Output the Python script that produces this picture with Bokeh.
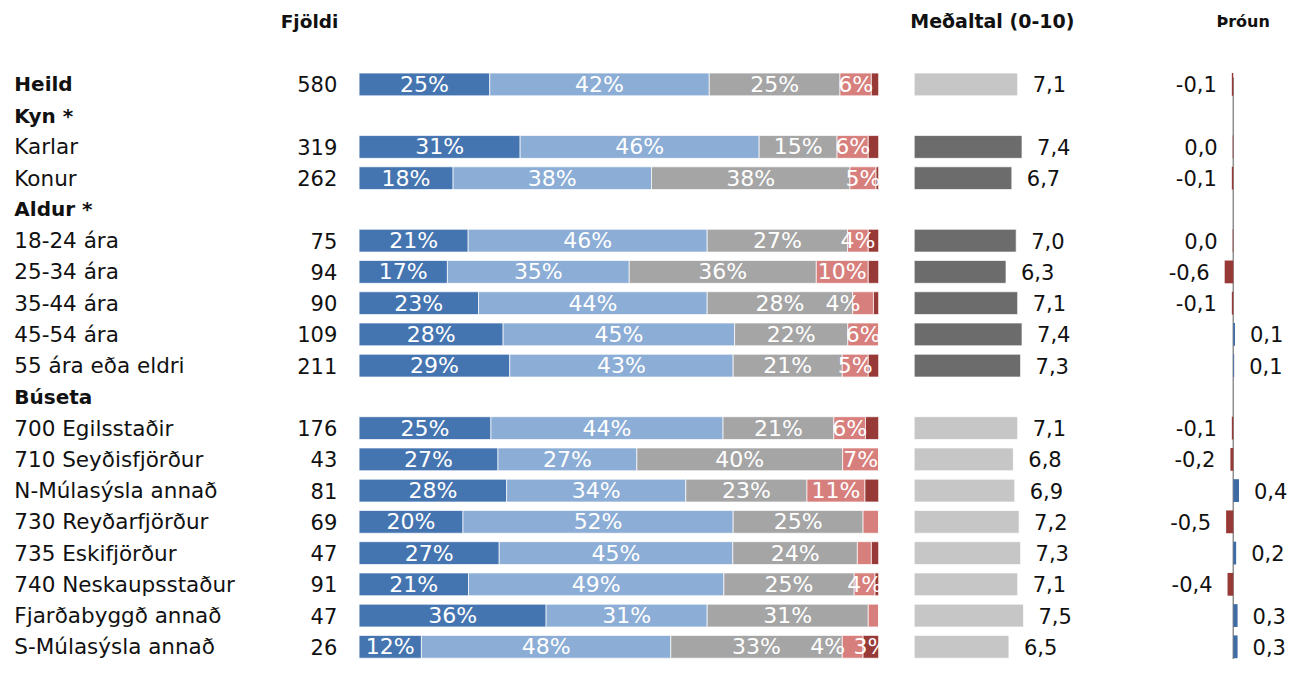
from bokeh.plotting import figure
from bokeh.models import Range1d, ColumnDataSource
from bokeh.core.properties import value
from bokeh.embed import file_html
from bokeh.resources import INLINE

# ---------------- data ----------------
rows = ["Heild", "Kyn *", "Karlar", "Konur", "Aldur *", "18-24 ára", "25-34 ára",
        "35-44 ára", "45-54 ára", "55 ára eða eldri", "Búseta", "700 Egilsstaðir",
        "710 Seyðisfjörður", "N-Múlasýsla annað", "730 Reyðarfjörður", "735 Eskifjörður",
        "740 Neskaupsstaður", "Fjarðabyggð annað", "S-Múlasýsla annað"]
bold_rows = ["Heild", "Kyn *", "Aldur *", "Búseta"]

data_rows = ["Heild", "Karlar", "Konur", "18-24 ára", "25-34 ára", "35-44 ára", "45-54 ára",
             "55 ára eða eldri", "700 Egilsstaðir", "710 Seyðisfjörður", "N-Múlasýsla annað",
             "730 Reyðarfjörður", "735 Eskifjörður", "740 Neskaupsstaður",
             "Fjarðabyggð annað", "S-Múlasýsla annað"]
groups = ["Heild", "Kyn", "Kyn", "Aldur", "Aldur", "Aldur", "Aldur", "Aldur",
          "Búseta", "Búseta", "Búseta", "Búseta", "Búseta", "Búseta", "Búseta", "Búseta"]
fjoldi = [580, 319, 262, 75, 94, 90, 109, 211, 176, 43, 81, 69, 47, 91, 47, 26]

s1 = [25, 31, 18, 21, 17, 23, 28, 29, 25, 27, 28, 20, 27, 21, 36, 12]
s2 = [42, 46, 38, 46, 35, 44, 45, 43, 44, 27, 34, 52, 45, 49, 31, 48]
s3 = [25, 15, 38, 27, 36, 28, 22, 21, 21, 40, 23, 25, 24, 25, 31, 33]
s4 = [6, 6, 5, 4, 10, 4, 6, 5, 6, 7, 11, 3, 2.7, 4, 2, 4]
s5 = [1.4, 2, 0.5, 2, 2, 1, 0, 2, 2.5, 0, 2.6, 0, 1.4, 0.7, 0, 3]

medaltal = [7.1, 7.4, 6.7, 7.0, 6.3, 7.1, 7.4, 7.3, 7.1, 6.8, 6.9, 7.2, 7.3, 7.1, 7.5, 6.5]
throun = [-0.1, -0.04, -0.1, -0.04, -0.6, -0.1, 0.12, 0.06, -0.1, -0.2, 0.4, -0.5, 0.2, -0.4, 0.3, 0.3]

# ---------------- styling / layout ----------------
seg_colors = ["#4575B1", "#8CADD5", "#A5A5A5", "#D77F7C", "#973A37"]
mean_colors = {"Heild": "#C6C6C6", "Kyn": "#6C6C6C", "Aldur": "#6C6C6C", "Búseta": "#C6C6C6"}
FONT = value("DejaVu Sans")
TXT = "#111111"
W, H = 1295, 659
SX, SY = W / 1311, H / 675
PITCH = 32 * SY
TOP = 86 * SY
BAR_H = 0.73

nudges = {("35-44 ára", 3): -20, ("S-Múlasýsla annað", 3): -25}
forced_labels = {("S-Múlasýsla annað", 4)}

y_top = -TOP / PITCH
y_bot = (H - TOP) / PITCH

p = figure(width=W, height=H, x_range=Range1d(0, W), y_range=Range1d(y_bot, y_top),
           output_backend="svg", toolbar_location=None, min_border=0,
           x_axis_location=None, y_axis_location=None, background_fill_color="white")
p.grid.visible = False
p.outline_line_color = None

pct0, pctw = 363 * SX, 526 * SX
mean0, meanpx = 925 * SX, 14.75 * SX
tr0, trpx = 1248 * SX, 14.5 * SX
p.extra_x_ranges = {
    "pct": Range1d(-pct0 * 100 / pctw, (W - pct0) * 100 / pctw),
    "mean": Range1d(-mean0 / meanpx, (W - mean0) / meanpx),
    "trend": Range1d(-tr0 / trpx, (W - tr0) / trpx),
}

ys = [rows.index(r) for r in data_rows]

# ---- row labels and counts ----
norm_rows = [r for r in rows if r not in bold_rows]
p.text(x=[14 * SX] * len(norm_rows), y=[rows.index(r) for r in norm_rows], text=norm_rows,
       text_font=FONT, text_font_size="21.5px", text_baseline="middle", text_color=TXT)
p.text(x=[14 * SX] * len(bold_rows), y=[rows.index(r) for r in bold_rows], text=bold_rows,
       text_font=FONT, text_font_size="20px", text_font_style="bold",
       text_baseline="middle", text_color=TXT)
p.text(x=[341 * SX] * len(ys), y=ys, text=[str(v) for v in fjoldi], text_font=FONT,
       text_font_size="21px", text_align="right", text_baseline="middle", text_color=TXT)

# ---- headers ----
hy = -2.03
p.text(x=[342 * SX], y=[hy], text=["Fjöldi"], text_font=FONT, text_font_size="18.5px",
       text_font_style="bold", text_align="right", text_baseline="middle", text_color=TXT)
p.text(x=[921 * SX], y=[hy], text=["Meðaltal (0-10)"], text_font=FONT, text_font_size="19px",
       text_font_style="bold", text_align="left", text_baseline="middle", text_color=TXT)
p.text(x=[1258 * SX], y=[hy], text=["Þróun"], text_font=FONT, text_font_size="16px",
       text_font_style="bold", text_align="center", text_baseline="middle", text_color=TXT)

# ---- 100% stacked bars ----
segs = [s1, s2, s3, s4, s5]
lefts = [[0.0] * len(ys) for _ in segs]
rights = [[0.0] * len(ys) for _ in segs]
for i in range(len(ys)):
    tot = sum(s[i] for s in segs)
    acc = 0.0
    for k, s in enumerate(segs):
        lefts[k][i] = acc / tot * 100
        acc += s[i]
        rights[k][i] = acc / tot * 100

lx, ly, lt, lo = [], [], [], []
for k, s in enumerate(segs):
    src = ColumnDataSource(dict(y=ys, left=lefts[k], right=rights[k]))
    p.hbar(y="y", left="left", right="right", height=BAR_H, source=src, x_range_name="pct",
           fill_color=seg_colors[k], line_color="white", line_width=1, line_alpha=0.7)
    for i, r in enumerate(data_rows):
        v = s[i]
        if v >= 4 or (r, k) in forced_labels:
            lx.append((lefts[k][i] + rights[k][i]) / 2)
            ly.append(ys[i])
            lt.append(f"{round(v)}%")
            lo.append(nudges.get((r, k), 0))
p.text(x="x", y="y", text="t", x_offset="o",
       source=ColumnDataSource(dict(x=lx, y=ly, t=lt, o=lo)), x_range_name="pct",
       text_font=FONT, text_font_size="22px", text_align="center", text_baseline="middle",
       text_color="white")

# ---- mean bars ----
msrc = ColumnDataSource(dict(y=ys, v=medaltal, c=[mean_colors[g] for g in groups],
                             t=[f"{v:.1f}".replace(".", ",") for v in medaltal]))
p.hbar(y="y", left=0, right="v", height=BAR_H, source=msrc, x_range_name="mean",
       fill_color="c", line_color="white", line_width=1, line_alpha=0.7)
p.text(x="v", y="y", text="t", source=msrc, x_range_name="mean", x_offset=15,
       text_font=FONT, text_font_size="21px", text_baseline="middle", text_color=TXT)

# ---- trend ----
def fmt(v):
    s = f"{round(v, 1):.1f}"
    if s == "-0.0":
        s = "0.0"
    return s.replace(".", ",")

p.segment(x0=[0], y0=[-0.22], x1=[0], y1=[y_bot], x_range_name="trend",
          line_color="#8F8F8F", line_width=1.5)
neg = [i for i, v in enumerate(throun) if v < 0]
pos = [i for i, v in enumerate(throun) if v >= 0]
for idx, col, off, al in [(neg, "#973A37", -15, "right"), (pos, "#3F6BA5", 15, "left")]:
    src = ColumnDataSource(dict(y=[ys[i] for i in idx], v=[throun[i] for i in idx],
                                t=[fmt(throun[i]) for i in idx]))
    p.hbar(y="y", left=0, right="v", height=BAR_H, source=src, x_range_name="trend",
           fill_color=col, line_color=None)
    p.text(x="v", y="y", text="t", source=src, x_range_name="trend", x_offset=off,
           text_font=FONT, text_font_size="21px", text_align=al, text_baseline="middle",
           text_color=TXT)

open("out.html", "w").write(file_html(p, INLINE))
